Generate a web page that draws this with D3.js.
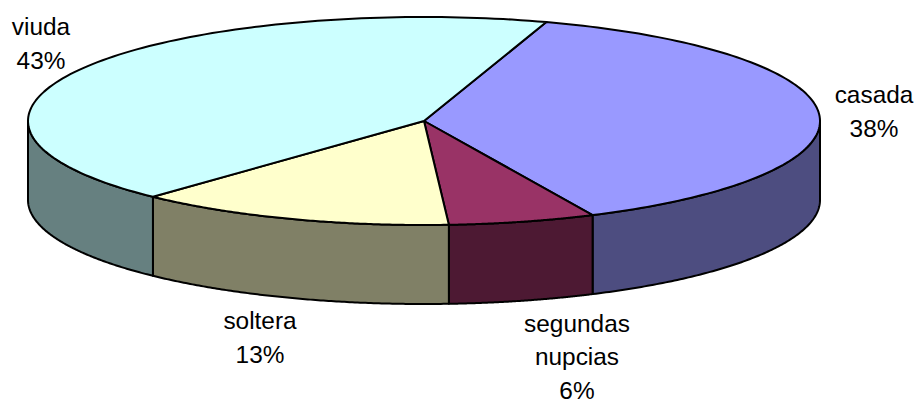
<!DOCTYPE html>
<html>
<head>
<meta charset="utf-8">
<script src="https://cdn.jsdelivr.net/npm/d3@7"></script>
<style>
  html, body { margin: 0; background: #fff; }
  svg { display: block; }
  text { font-family: "Liberation Sans", Arial, sans-serif; font-size: 24.4px; fill: #000; text-anchor: middle; }
</style>
</head>
<body>
<svg id="chart" width="917" height="399"></svg>
<script>
// Marital status shares, clockwise from the first slice
const categories = ["casada", "segundas nupcias", "soltera", "viuda"];
const shares = [38, 6, 13, 43];
const topColors = ["#9999FF", "#993366", "#FFFFCC", "#CCFFFF"];
const sideColors = ["#4D4D80", "#4D1933", "#808066", "#668080"];
const labelLines = [["casada"], ["segundas", "nupcias"], ["soltera"], ["viuda"]];

// Ellipse frame of the tilted pie and the thickness of its wall
const frame = { left: 28, right: 820, top: 17, bottom: 225, depth: 79 };
const firstSliceAngle = 18 * Math.PI / 180;
const labelAnchors = [
  { x: 874, y: 103 }, { x: 577, y: 331.5 }, { x: 260, y: 329 }, { x: 41, y: 35 }
];
const lineStep = 33.5;

const svg = d3.select("#chart");
const x = d3.scaleLinear().domain([-1, 1]).range([frame.left, frame.right]);
const y = d3.scaleLinear().domain([-1, 1]).range([frame.top, frame.bottom]);
const onRim = (a, drop = 0) => [x(Math.sin(a)), y(-Math.cos(a)) + drop];

const pie = d3.pie().sort(null).value(d => d)
  .startAngle(firstSliceAngle).endAngle(firstSliceAngle + 2 * Math.PI);
const slices = pie(shares);

const line = d3.line();
const rimAngles = (a0, a1) => d3.range(0, 121).map(i => a0 + (a1 - a0) * i / 120);

const strokeStyle = g => g.attr("stroke", "#000").attr("stroke-width", 2).attr("stroke-linejoin", "round");

// Wall: only the part of each slice's rim on the near half of the ellipse is visible
const near = [Math.PI / 2, 3 * Math.PI / 2];
const walls = svg.append("g").call(strokeStyle);
slices.forEach((s, i) => {
  const a0 = Math.max(s.startAngle, near[0]);
  const a1 = Math.min(s.endAngle, near[1]);
  if (a1 <= a0) return;
  const angles = rimAngles(a0, a1);
  const upper = angles.map(a => onRim(a));
  const lower = angles.slice().reverse().map(a => onRim(a, frame.depth));
  walls.append("path")
    .attr("d", line(upper.concat(lower)) + "Z")
    .attr("fill", sideColors[i]);
});

// Top face of the pie
const faces = svg.append("g").call(strokeStyle);
slices.forEach((s, i) => {
  const pts = [[x(0), y(0)]].concat(rimAngles(s.startAngle, s.endAngle).map(a => onRim(a)));
  faces.append("path")
    .attr("d", line(pts) + "Z")
    .attr("fill", topColors[i]);
});

// Category name with its percentage on the line below
const labels = svg.append("g");
categories.forEach((c, i) => {
  const rows = labelLines[i].concat(shares[i] + "%");
  const t = labels.append("text");
  rows.forEach((r, k) => {
    t.append("tspan")
      .attr("x", labelAnchors[i].x)
      .attr("y", labelAnchors[i].y + k * lineStep)
      .text(r);
  });
});
</script>
</body>
</html>
